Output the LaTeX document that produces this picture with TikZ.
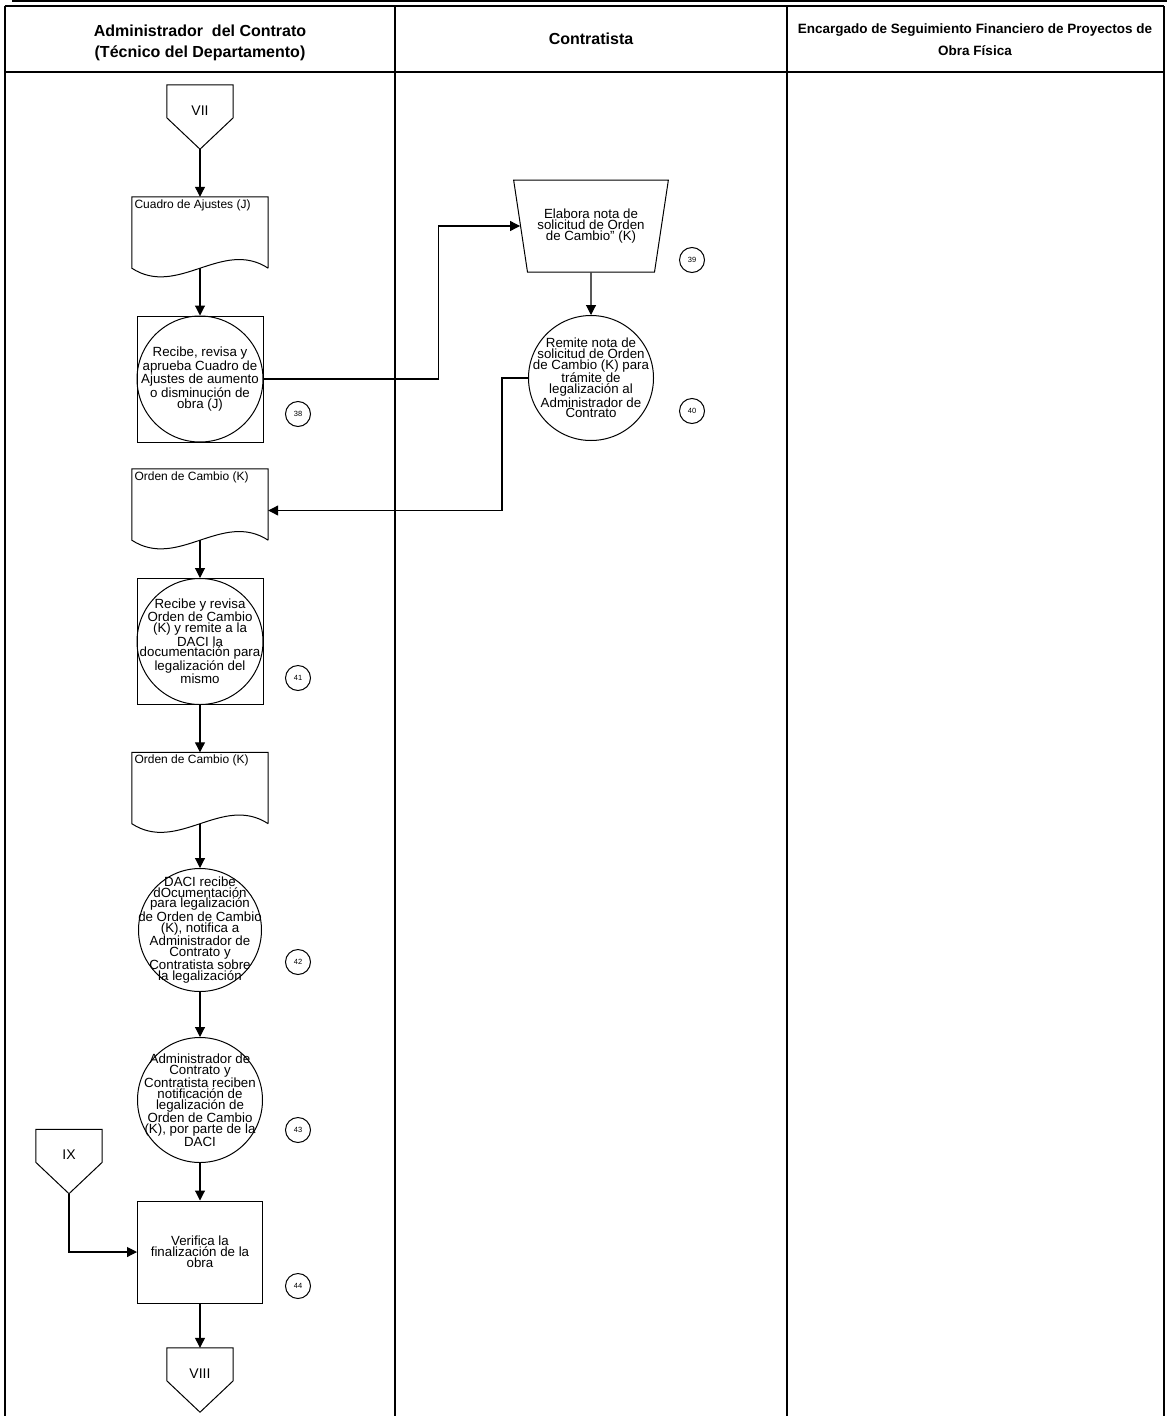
\documentclass[tikz,border=0pt]{standalone}
\usepackage{fontspec}
\setmainfont{Liberation Sans}
\usetikzlibrary{arrows.meta,shapes.geometric,calc}

\begin{document}
\begin{tikzpicture}[
        x=1pt, y=-1pt,
        every node/.style={font=\fontsize{13.3}{10.8}\selectfont},
        flow/.style={
            draw,
            line width=1.1pt,
            -{Triangle[length=10pt,width=10pt]}
        },
        lane/.style={draw, line width=1.5pt},
        head/.style={
            font=\bfseries\fontsize{16}{21}\selectfont,
            align=center
        },
        proc/.style={
            circle,
            draw,
            line width=1pt,
            minimum size=126pt,
            inner sep=-18pt,
            align=center
        },
        procbox/.style={
            rectangle,
            draw,
            line width=1pt,
            minimum size=126pt,
            inner sep=0pt
        },
        manual/.style={
            trapezium,
            trapezium stretches=true,
            shape border rotate=180,
            trapezium left angle=71,
            trapezium right angle=71,
            draw,
            line width=1pt,
            minimum width=155pt,
            minimum height=92pt,
            inner sep=0pt,
            align=center
        },
        doc/.style={minimum width=136pt, minimum height=71pt, inner sep=0pt},
        doctext/.style={anchor=north west, inner sep=2.5pt, font=\fontsize{12}{12}\selectfont},
        offpage/.style={
            minimum width=66pt,
            minimum height=64pt,
            inner sep=0pt,
            text height=10pt,
            text depth=14pt,
            font=\fontsize{14}{14}\selectfont
        },
        numcircle/.style={
            circle,
            draw,
            line width=1pt,
            minimum size=25pt,
            inner sep=0pt,
            font=\fontsize{7.5}{7.5}\selectfont
        }
    ]
    \useasboundingbox (0,0) rectangle (1167,1416);

    % Lanes
    \draw[line width=1.5pt] (12,1) -- (1167,1);
    \draw[lane] (4.5,6) -- (1164,6);
    \draw[lane] (4.5,72) -- (1164,72);
    \draw[line width=2pt] (4.5,6) -- (4.5,1416);
    \foreach \x in {395,787,1164}
        \draw[lane] (\x,6) -- (\x,1416);

    \node[head] (hadm) at (200,43) {Administrador\ \ del Contrato\\(Técnico del Departamento)};
    \node[head] (hcon) at (591,39) {Contratista};
    \node[head, font=\bfseries\fontsize{13.5}{22}\selectfont] (hfin) at (975,40)
        {Encargado de Seguimiento Financiero de Proyectos de\\Obra Física};

    % Administrador del Contrato
    \node[offpage] (vii) at (200,117) {VII};

    \node[doc] (doc1) at (200,232.5) {};
    \node[doctext] (tdoc1) at (doc1.north west) {Cuadro de Ajustes (J)};

    \node[procbox] (r38) at (200,379) {};
    \node[proc] (a38) at (200,379) {Recibe, revisa y\\aprueba Cuadro de\\Ajustes de aumento\\o disminución de\\obra (J)};
    \node[numcircle] (n38) at (298,414) {38};

    % Contratista
    \node[manual] (m39) at (591,226) {Elabora nota de\\solicitud de Orden\\de Cambio" (K)};
    \node[numcircle] (n39) at (692,260) {39};

    \node[proc, minimum size=125pt] (a40) at (591,378) {Remite nota de\\solicitud de Orden\\de Cambio (K) para\\trámite de\\legalización al\\Administrador de\\Contrato};
    \node[numcircle] (n40) at (692,411) {40};

    % back to Administrador del Contrato
    \node[doc] (doc2) at (200,504.5) {};
    \node[doctext] (tdoc2) at (doc2.north west) {Orden de Cambio (K)};

    \node[procbox] (r41) at (200,641.5) {};
    \node[proc] (a41) at (200,641.5) {Recibe y revisa\\Orden de Cambio\\(K) y remite a la\\DACI la\\documentación para\\legalización del\\mismo};
    \node[numcircle] (n41) at (298,678) {41};

    \node[doc] (doc3) at (200,788) {};
    \node[doctext] (tdoc3) at (doc3.north west) {Orden de Cambio (K)};

    \node[proc, minimum size=123pt] (a42) at (200,930) {DACI recibe\\dOcumentación\\para legalización\\de Orden de Cambio\\(K), notifica a\\Administrador de\\Contrato y\\Contratista sobre\\la legalización};
    \node[numcircle] (n42) at (298,962) {42};

    \node[proc, minimum size=125pt] (a43) at (200,1100) {Administrador de\\Contrato y\\Contratista reciben\\notificación de\\legalización de\\Orden de Cambio\\(K), por parte de la\\DACI};
    \node[numcircle] (n43) at (298,1130) {43};

    \node[offpage] (ix) at (69,1161.5) {IX};

    \node[procbox, minimum width=125pt, minimum height=102pt, align=center] (r44) at (200,1252) {Verifica la\\finalización de la\\obra};
    \node[numcircle] (n44) at (298,1286) {44};

    \node[offpage] (viii) at (200,1380) {VIII};

    % Outlines
    \foreach \d in {doc1,doc2,doc3}
        \draw[line width=1pt] (\d.south east) -- (\d.north east) -- (\d.north west) -- (\d.south west)
            .. controls +(46,30) and +(-46,-30) .. (\d.south east);
    \foreach \c in {vii,ix,viii}
        \draw[line width=1pt] (\c.north west) -- (\c.north east) -- ($(\c.north east)+(0,33)$)
            -- (\c.south) -- ($(\c.north west)+(0,33)$) -- cycle;

    % Flow
    \draw[flow] (vii.south) -- (doc1.north);
    \draw[flow] (doc1.south) -- (r38.north);
    \draw[flow] (r38.east) -- ++(175,0) |- (m39.west);
    \draw[flow] (m39.south) -- (a40.north);
    \draw[flow] (a40.west) -- ++(-26,0) |- ([yshift=-6pt]doc2.east);
    \draw[flow] (doc2.south) -- (r41.north);
    \draw[flow] (r41.south) -- (doc3.north);
    \draw[flow] (doc3.south) -- (a42.north);
    \draw[flow] (a42.south) -- (a43.north);
    \draw[flow] (a43.south) -- (r44.north);
    \draw[flow] (ix.south) |- (r44.west);
    \draw[flow] (r44.south) -- (viii.north);

\end{tikzpicture}
\end{document}
